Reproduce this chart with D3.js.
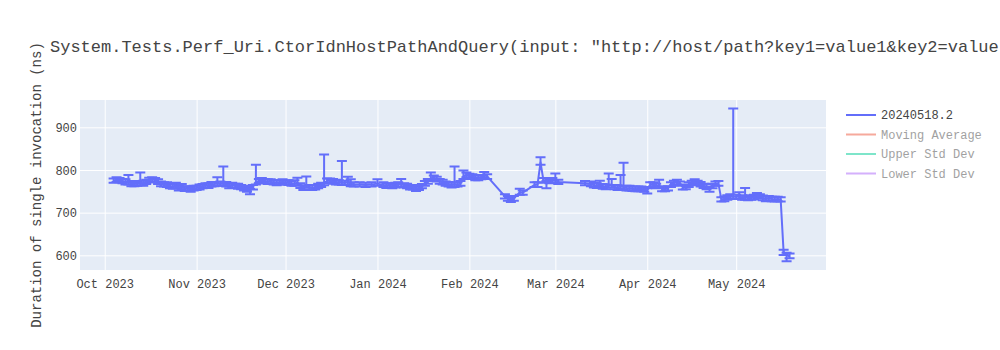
<!DOCTYPE html>
<html>
<head>
<meta charset="utf-8">
<script src="https://cdn.jsdelivr.net/npm/d3@7"></script>
<style>
  body { margin: 0; background: #fff; }
  text { font-family: "Courier New", "Liberation Mono", monospace; }
</style>
</head>
<body>
<svg id="chart" width="1000" height="350"></svg>
<script>

/****** Data ******/

var runDates = [
  "2023-10-04","2023-10-05","2023-10-06","2023-10-07","2023-10-08","2023-10-09","2023-10-10","2023-10-11","2023-10-12","2023-10-13",
  "2023-10-14","2023-10-15","2023-10-16","2023-10-17","2023-10-18","2023-10-19","2023-10-20","2023-10-21","2023-10-22","2023-10-23",
  "2023-10-24","2023-10-25","2023-10-26","2023-10-27","2023-10-28","2023-10-29","2023-10-30","2023-10-31",
  "2023-11-01","2023-11-02","2023-11-03","2023-11-04","2023-11-05","2023-11-06","2023-11-07","2023-11-08","2023-11-09","2023-11-10",
  "2023-11-11","2023-11-12","2023-11-13","2023-11-14","2023-11-15","2023-11-16","2023-11-17","2023-11-18","2023-11-19","2023-11-20",
  "2023-11-21","2023-11-22","2023-11-23","2023-11-24","2023-11-25","2023-11-26","2023-11-27","2023-11-28","2023-11-29","2023-11-30",
  "2023-12-01","2023-12-02","2023-12-03","2023-12-04","2023-12-05","2023-12-06","2023-12-07","2023-12-08","2023-12-09","2023-12-10",
  "2023-12-11","2023-12-12","2023-12-13","2023-12-14","2023-12-15","2023-12-16","2023-12-17","2023-12-18","2023-12-19","2023-12-20",
  "2023-12-21","2023-12-22","2023-12-23","2023-12-24","2023-12-26","2023-12-28","2023-12-30",
  "2024-01-01","2024-01-03","2024-01-04","2024-01-05","2024-01-06","2024-01-07","2024-01-08","2024-01-09","2024-01-10","2024-01-11",
  "2024-01-12","2024-01-13","2024-01-14","2024-01-15","2024-01-16","2024-01-17","2024-01-18","2024-01-19","2024-01-20","2024-01-21",
  "2024-01-22","2024-01-23","2024-01-24","2024-01-25","2024-01-26","2024-01-27","2024-01-28","2024-01-29","2024-01-30","2024-01-31",
  "2024-02-01","2024-02-02","2024-02-03","2024-02-04","2024-02-05","2024-02-06","2024-02-07","2024-02-13","2024-02-14","2024-02-15",
  "2024-02-16","2024-02-18","2024-02-19","2024-02-23","2024-02-24","2024-02-25","2024-02-26","2024-02-27","2024-02-28","2024-02-29",
  "2024-03-01","2024-03-02","2024-03-11","2024-03-13","2024-03-14","2024-03-15","2024-03-16","2024-03-17","2024-03-18","2024-03-19",
  "2024-03-20","2024-03-21","2024-03-22","2024-03-23","2024-03-24","2024-03-25","2024-03-26","2024-03-27","2024-03-28","2024-03-29",
  "2024-03-30","2024-03-31",
  "2024-04-01","2024-04-02","2024-04-03","2024-04-04","2024-04-05","2024-04-06","2024-04-07","2024-04-08","2024-04-09","2024-04-10",
  "2024-04-11","2024-04-12","2024-04-13","2024-04-14","2024-04-15","2024-04-16","2024-04-17","2024-04-18","2024-04-19","2024-04-20",
  "2024-04-21","2024-04-22","2024-04-23","2024-04-24","2024-04-25","2024-04-26","2024-04-27","2024-04-28","2024-04-29","2024-04-30",
  "2024-05-01","2024-05-02","2024-05-03","2024-05-04","2024-05-05","2024-05-06","2024-05-07","2024-05-08","2024-05-09","2024-05-10",
  "2024-05-11","2024-05-12","2024-05-13","2024-05-14","2024-05-15","2024-05-16","2024-05-17","2024-05-18","2024-05-19"
];

var durations = [
  775,777,776,774,772,772,768,767,768,770,
  769,772,776,778,776,772,768,766,765,763,
  761,762,758,760,757,756,755,757,
  758,760,762,763,764,766,767,769,768,770,
  766,763,764,763,762,760,757,755,750,760,
  772,774,775,774,773,772,771,770,771,772,
  771,770,769,768,770,763,759,765,760,758,
  760,762,765,770,774,775,773,772,771,771,
  770,772,768,766,766,765,766,
  768,765,764,763,762,764,766,767,764,762,
  760,759,757,758,762,768,774,780,782,778,
  774,771,768,766,765,766,766,768,785,788,
  786,784,782,781,783,787,785,738,733,731,
  733,748,747,765,766,818,775,768,774,775,
  776,772,769,767,765,763,765,762,760,765,
  765,760,758,762,760,758,757,756,755,756,
  755,754,
  752,765,766,762,764,756,755,757,765,770,
  771,768,760,760,765,770,772,770,766,763,
  760,755,762,768,768,731,732,736,737,738,
  737,738,735,736,734,735,737,740,738,734,
  733,733,732,731,732,731,607,600,598
];

var errPlus = [
  5,6,5,5,6,16,6,5,6,24,
  6,5,6,5,5,6,5,5,6,5,
  6,8,5,7,5,6,5,6,
  5,6,5,6,5,6,5,14,5,38,
  6,5,6,5,6,5,6,5,6,5,
  40,5,6,5,5,6,5,6,5,6,
  5,6,5,8,12,6,5,20,5,6,
  5,6,5,66,6,5,6,5,5,50,
  5,12,10,5,5,5,5,
  10,6,5,6,5,6,5,12,5,6,
  5,6,5,6,5,6,5,14,5,6,
  5,6,5,6,5,42,5,6,14,6,
  5,6,5,6,5,8,5,5,6,5,
  6,8,5,6,5,12,6,6,5,6,
  16,5,5,6,5,6,10,5,6,27,
  14,5,6,26,57,5,6,5,6,5,
  6,5,
  5,6,5,6,13,5,6,5,6,5,
  6,5,6,5,6,5,6,5,6,5,
  6,5,6,5,6,5,6,5,6,206,
  5,10,6,22,5,6,5,6,5,6,
  5,6,5,6,5,5,6,6,6
];

var errMinus = [
  5,5,5,5,6,6,6,5,5,6,
  6,5,5,6,5,5,6,5,5,6,
  5,5,6,5,6,5,6,5,
  5,6,5,5,6,5,5,6,5,6,
  5,6,5,5,6,5,5,6,7,6,
  6,5,5,5,6,5,5,6,5,5,
  5,5,6,5,6,5,6,6,5,5,
  6,5,5,6,5,5,5,6,5,6,
  5,6,6,5,5,5,5,
  5,5,6,5,5,5,6,6,5,5,
  6,5,6,5,5,5,6,6,5,5,
  6,5,5,5,6,6,5,5,6,5,
  5,5,6,5,5,5,6,5,5,6,
  5,6,5,5,6,6,5,11,5,5,
  6,5,5,5,6,5,5,6,5,6,
  6,5,5,6,6,6,5,5,5,6,
  5,5,
  7,5,5,5,6,6,5,5,5,6,
  5,5,6,5,5,5,5,6,5,5,
  5,6,5,5,5,5,5,6,5,6,
  5,6,5,6,5,5,6,5,5,5,
  6,5,5,5,5,5,6,14,5
];

var yTicks = [600, 700, 800, 900];
var legendNames = ["20240518.2", "Moving Average", "Upper Std Dev", "Lower Std Dev"];
var legendColors = ["#636efa", "#EF553B", "#00cc96", "#ab63fa"];
var legendHidden = [false, true, true, true];

// the reference crops the title at the page edge, so only the visible part is kept
var chartTitle = 'System.Tests.Perf_Uri.CtorIdnHostPathAndQuery(input: "http://host/path?key1=value1&key2=value';
var yTitle = "Duration of single invocation (ns)";

function perfChart(svg) {

  /****** Local Variables ******/

  var _chartObj = {},
      _svg = svg,
      _margins = {top: 100, right: 174, bottom: 80, left: 80},
      _width = +svg.attr('width') - _margins.left - _margins.right,
      _height = +svg.attr('height') - _margins.top - _margins.bottom,
      _x, _y, _body, _data = [];

  var parseDay = d3.utcParse("%Y-%m-%d");

  _chartObj.render = function () {
    _data = runDates.map(function (d, i) {
      return {date: parseDay(d), value: durations[i], hi: durations[i] + errPlus[i], lo: durations[i] - errMinus[i]};
    });

    _x = d3.scaleUtc()
           .domain([new Date(Date.UTC(2023, 8, 22, 16)), new Date(Date.UTC(2024, 4, 31, 7))])
           .range([0, _width]);
    _y = d3.scaleLinear()
           .domain([565.6, 964])
           .range([_height, 0]);

    _body = _svg.append("g")
                .attr("transform", "translate(" + _margins.left + "," + _margins.top + ")");

    renderAxes(_body);
    renderBody(_body);
    renderLegend();
    renderTitles();
  };

  function renderAxes(g) {
    g.append("rect")
     .attr("width", _width)
     .attr("height", _height)
     .attr("fill", "#E5ECF6");

    var xAxis = d3.axisBottom(_x)
                  .ticks(d3.utcMonth.every(1))
                  .tickFormat(d3.utcFormat("%b %Y"))
                  .tickSize(-_height);
    var yAxis = d3.axisLeft(_y)
                  .tickValues(yTicks)
                  .tickSize(-_width);

    var gx = g.append("g")
              .attr("transform", "translate(0," + _height + ")")
              .call(xAxis);
    var gy = g.append("g").call(yAxis);

    [gx, gy].forEach(function (a) {
      a.select(".domain").remove();
      a.selectAll(".tick line").attr("stroke", "#fff").attr("stroke-width", 1);
      a.selectAll(".tick text")
       .attr("fill", "#444")
       .style("font-size", "12px")
       .style("font-family", '"Courier New", "Liberation Mono", monospace');
    });
    gx.selectAll(".tick text").attr("y", 9).attr("dy", "0.71em");
    gy.selectAll(".tick text").attr("x", -3).attr("dy", "0.35em");
  }

  function renderBody(g) {
    var color = legendColors[0];

    var bars = g.append("g").attr("stroke", color).attr("stroke-width", 2).attr("fill", "none");
    bars.selectAll("path")
        .data(_data)
        .enter().append("path")
        .attr("d", function (d) {
          var x = _x(d.date), t = _y(d.hi), b = _y(d.lo);
          return "M" + x + "," + t + "V" + b +
                 "M" + (x - 5) + "," + t + "H" + (x + 5) +
                 "M" + (x - 5) + "," + b + "H" + (x + 5);
        });

    var line = d3.line()
                 .x(function (d) { return _x(d.date); })
                 .y(function (d) { return _y(d.value); });

    g.append("path")
     .datum(_data)
     .attr("d", line)
     .attr("fill", "none")
     .attr("stroke", color)
     .attr("stroke-width", 2)
     .attr("stroke-linejoin", "round");
  }

  function renderLegend() {
    var lg = _svg.append("g").attr("transform", "translate(846,115)");
    var items = lg.selectAll("g")
                  .data(legendNames)
                  .enter().append("g")
                  .attr("transform", function (d, i) { return "translate(0," + (i * 19.5) + ")"; })
                  .attr("opacity", function (d, i) { return legendHidden[i] ? 0.5 : 1; });

    items.append("line")
         .attr("x1", 0).attr("x2", 30)
         .attr("stroke", function (d, i) { return legendColors[i]; })
         .attr("stroke-width", 2);
    items.append("text")
         .attr("x", 35)
         .attr("dy", "0.35em")
         .attr("fill", "#444")
         .style("font-size", "12px")
         .text(function (d) { return d; });
  }

  function renderTitles() {
    _svg.append("text")
        .attr("x", 50)
        .attr("y", 52)
        .attr("fill", "#444")
        .style("font-size", "17px")
        .text(chartTitle);

    _svg.append("text")
        .attr("transform", "translate(41," + (_margins.top + _height / 2) + ") rotate(-90)")
        .attr("text-anchor", "middle")
        .attr("fill", "#444")
        .style("font-size", "14px")
        .text(yTitle);
  }

  return _chartObj;
}

function init() {
  var chart = perfChart(d3.select("#chart"));
  chart.render();
}

init();
</script>
</body>
</html>
